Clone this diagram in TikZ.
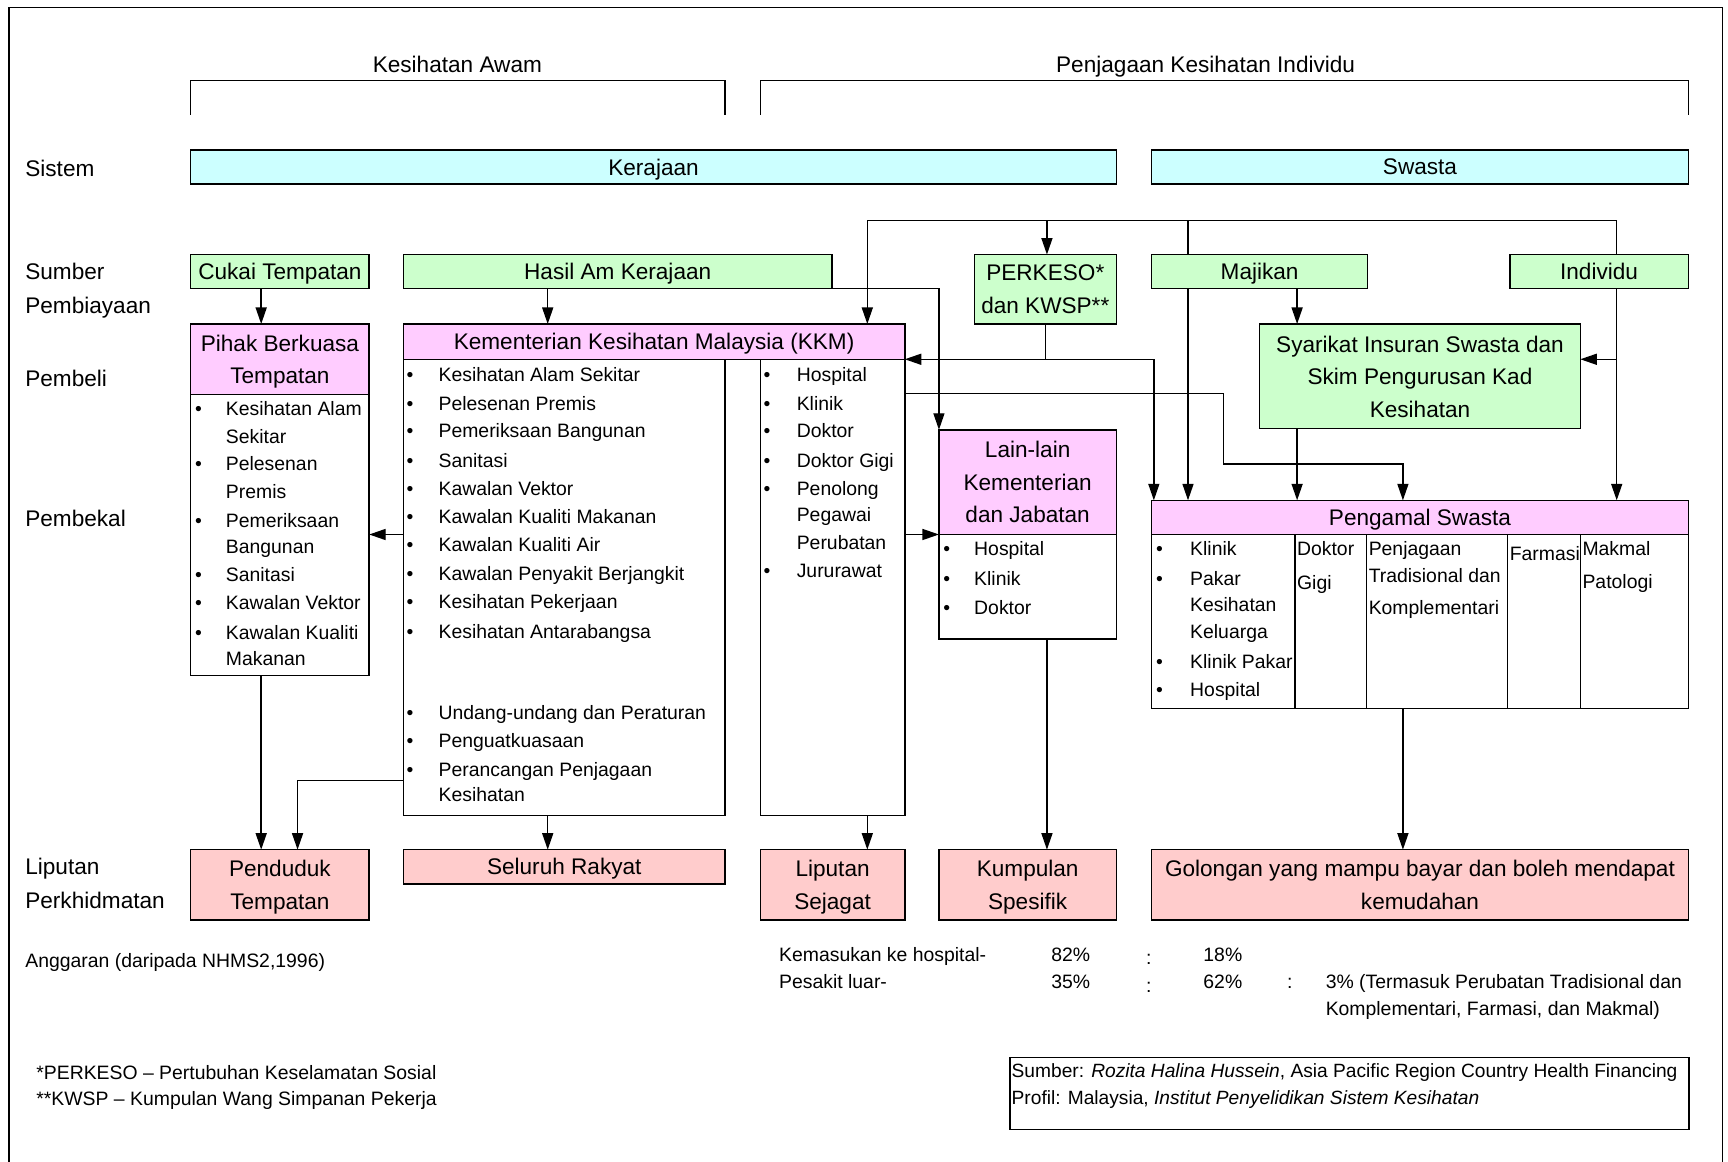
\documentclass[tikz,border=0pt]{standalone}
\usepackage{fontspec}
\setmainfont{Liberation Sans}
\usetikzlibrary{arrows.meta}
\definecolor{cy}{HTML}{CCFFFF}
\definecolor{gr}{HTML}{CCFFCC}
\definecolor{pkc}{HTML}{FFCCFF}
\definecolor{rd}{HTML}{FFCCCC}
\newcommand\bigf{\fontsize{20.5}{29.5}\selectfont}
\newcommand\smf{\fontsize{17.6}{25}\selectfont}
\begin{document}
\begin{tikzpicture}[x=1pt,y=-1pt,
 bx/.style={draw, line width=1.3pt, inner sep=0pt, outer sep=0pt, anchor=north west, align=center, text depth=0pt, font=\bigf},
 lt/.style={anchor=west, inner sep=0pt, outer sep=0pt, text height=12.6pt, text depth=0pt, font=\smf},
 ltb/.style={anchor=west, inner sep=0pt, outer sep=0pt, text height=14.7pt, text depth=0pt, font=\bigf},
 ttl/.style={inner sep=0pt, outer sep=0pt, text height=14.7pt, text depth=0pt, font=\bigf},
 ln/.style={line width=1.3pt},
 arr/.style={line width=1.3pt, -{Triangle[width=10pt,length=15pt]}},
]
\fill[white] (0,0) rectangle (1568,1054);
\useasboundingbox (0,0) rectangle (1568,1054);
% frame
\draw[ln] (8,1054) -- (8,7) -- (1563,7) -- (1563,1054);

% top titles and brackets
\node[ttl] (ka) at (415,58) {Kesihatan Awam};
\node[ttl] (pki) at (1094,58) {Penjagaan Kesihatan Individu};
\draw[ln] (173,104) -- (173,73) -- (658,73) -- (658,104);
\draw[ln] (690,104) -- (690,73) -- (1532,73) -- (1532,104);

% row labels
\node[ltb] (lsis) at (23,153) {Sistem};
\node[ltb] (lsum) at (23,246) {Sumber};
\node[ltb] (lpem) at (23,277) {Pembiayaan};
\node[ltb] (lbel) at (23,343) {Pembeli};
\node[ltb] (lbek) at (23,470) {Pembekal};
\node[ltb] (llip) at (23,786) {Liputan};
\node[ltb] (lper) at (23,817) {Perkhidmatan};

% system row
\node[bx, fill=cy, minimum width=840pt, minimum height=31pt] (kerajaan) at (173,136) {Kerajaan};
\node[bx, fill=cy, minimum width=487pt, minimum height=31pt] (swasta) at (1045,136) {Swasta};

% financing row
\node[bx, fill=gr, minimum width=162pt, minimum height=31pt] (cukai) at (173,231) {Cukai Tempatan};
\node[bx, fill=gr, minimum width=389pt, minimum height=31pt] (hasil) at (366,231) {Hasil Am Kerajaan};
\node[bx, fill=gr, minimum width=129pt, minimum height=63pt] (perkeso) at (884,231) {PERKESO*\\dan KWSP**};
\node[bx, fill=gr, minimum width=196pt, minimum height=31pt] (majikan) at (1045,231) {Majikan};
\node[bx, fill=gr, minimum width=162pt, minimum height=31pt] (individu) at (1370,231) {Individu};

% purchaser / provider boxes
\node[bx, minimum width=162pt, minimum height=255pt] (pbtl) at (173,358) {};
\node[bx, fill=pkc, minimum width=162pt, minimum height=64pt] (pbt) at (173,294) {Pihak Berkuasa\\Tempatan};
\node[bx, minimum width=292pt, minimum height=414pt] (kkml) at (366,326) {};
\node[bx, minimum width=131pt, minimum height=414pt] (kkmr) at (690,326) {};
\node[bx, fill=pkc, minimum width=455pt, minimum height=32pt] (kkm) at (366,294) {Kementerian Kesihatan Malaysia (KKM)};
\node[bx, fill=gr, minimum width=291pt, minimum height=95pt] (sis) at (1143,294) {Syarikat Insuran Swasta dan\\Skim Pengurusan Kad\\Kesihatan};
\node[bx, minimum width=161pt, minimum height=95pt] (lainl) at (852,485) {};
\node[bx, fill=pkc, minimum width=161pt, minimum height=95pt] (lain) at (852,390) {Lain-lain\\Kementerian\\dan Jabatan};
\node[bx, minimum width=487pt, minimum height=158pt] (pengt) at (1045,485) {};
\node[bx, fill=pkc, minimum width=487pt, minimum height=31pt] (peng) at (1045,454) {Pengamal Swasta};
\foreach \x in {1175,1240,1368,1434} \draw[ln] (\x,485) -- (\x,643);

% coverage row
\node[bx, fill=rd, minimum width=162pt, minimum height=64pt] (pend) at (173,771) {Penduduk\\Tempatan};
\node[bx, fill=rd, minimum width=292pt, minimum height=31pt] (seluruh) at (366,771) {Seluruh Rakyat};
\node[bx, fill=rd, minimum width=131pt, minimum height=64pt] (liputan) at (690,771) {Liputan\\Sejagat};
\node[bx, fill=rd, minimum width=161pt, minimum height=64pt] (kumpulan) at (852,771) {Kumpulan\\Spesifik};
\node[bx, fill=rd, minimum width=487pt, minimum height=64pt] (golongan) at (1045,771) {Golongan yang mampu bayar dan boleh mendapat\\kemudahan};

% lists: Pihak Berkuasa Tempatan
\foreach \yy/\tx [count=\i] in {371/Kesihatan Alam, 396/Sekitar, 421/Pelesenan, 446/Premis, 472/Pemeriksaan, 496/Bangunan, 521/Sanitasi, 547/Kawalan Vektor, 574/Kawalan Kualiti, 598/Makanan}
  \node[lt] (pbtt\i) at (205,\yy) {\tx};
\foreach \yy [count=\i] in {371,421,472,521,547,574}
  \node[lt] (pbtb\i) at (177,\yy) {\textbullet};

% KKM left list
\foreach \yy/\tx [count=\i] in {340/Kesihatan Alam Sekitar, 366/Pelesenan Premis, 391/Pemeriksaan Bangunan, 418/Sanitasi, 443/Kawalan Vektor, 469/Kawalan Kualiti Makanan, 494/Kawalan Kualiti Air, 520/Kawalan Penyakit Berjangkit, 546/Kesihatan Pekerjaan, 573/Kesihatan Antarabangsa, 647/Undang-undang dan Peraturan, 672/Penguatkuasaan, 698/Perancangan Penjagaan, 721/Kesihatan}
  \node[lt] (kklt\i) at (398,\yy) {\tx};
\foreach \yy [count=\i] in {340,366,391,418,443,469,494,520,546,573,647,672,698}
  \node[lt] (kklb\i) at (369,\yy) {\textbullet};

% KKM right list
\foreach \yy/\tx [count=\i] in {340/Hospital, 366/Klinik, 391/Doktor, 418/Doktor Gigi, 443/Penolong, 467/Pegawai, 492/Perubatan, 518/Jururawat}
  \node[lt] (kkrt\i) at (723,\yy) {\tx};
\foreach \yy [count=\i] in {340,366,391,418,443,518}
  \node[lt] (kkrb\i) at (693,\yy) {\textbullet};

% Lain-lain list
\foreach \yy/\tx [count=\i] in {498/Hospital, 525/Klinik, 551/Doktor}
  \node[lt] (lnt\i) at (884,\yy) {\tx};
\foreach \yy [count=\i] in {498,525,551}
  \node[lt] (lnb\i) at (856,\yy) {\textbullet};

% Pengamal Swasta table
\foreach \yy/\tx [count=\i] in {498/Klinik, 525/Pakar, 549/Kesihatan, 573/Keluarga, 600/Klinik Pakar, 626/Hospital}
  \node[lt] (pgt\i) at (1080,\yy) {\tx};
\foreach \yy [count=\i] in {498,525,600,626}
  \node[lt] (pgb\i) at (1049,\yy) {\textbullet};
\node[lt] (pgd1) at (1177,498) {Doktor};
\node[lt] (pgd2) at (1177,529) {Gigi};
\node[lt] (pgj1) at (1242,498) {Penjagaan};
\node[lt] (pgj2) at (1242,522) {Tradisional dan};
\node[lt] (pgj3) at (1242,551) {Komplementari};
\node[lt] (pgf1) at (1370,502) {Farmasi};
\node[lt] (pgm1) at (1436,498) {Makmal};
\node[lt] (pgm2) at (1436,528) {Patologi};

% connector helper coordinates
\coordinate (xa) at (237,0);
\coordinate (xb) at (270,0);
\coordinate (xc) at (497,0);
\coordinate (xd) at (787,0);
\coordinate (xf) at (950,0);
\coordinate (xh) at (1078,0);
\coordinate (xj) at (1177,0);
\coordinate (xk) at (1273,0);
\coordinate (xl) at (1467,0);
\coordinate (bus) at (0,200);
\coordinate (ly) at (0,485);
\coordinate (iy) at (0,326);
\coordinate (ky) at (0,708);
\coordinate (k1) at (1110,357);
\coordinate (k3) at (1273,421);

% connectors
\draw[arr] (cukai.south -| xa) -- (pbt.north -| xa);
\draw[arr] (hasil.south -| xc) -- (kkm.north -| xc);
\draw[arr] (hasil.south east) -| (lain.north west);
\draw[ln] (individu.north -| xl) -- (bus -| xl) -- (bus -| xd);
\draw[ln] (majikan.north -| xh) -- (bus -| xh);
\draw[arr] (bus -| xd) -- (kkm.north -| xd);
\draw[arr] (bus -| xf) -- (perkeso.north -| xf);
\coordinate (pk1) at (perkeso.south |- kkm.south east);
\draw[ln] (perkeso.south) -- (pk1);
\draw[arr] (pk1) -- (kkm.south east);
\draw[arr] (pk1) -| ([xshift=2pt]peng.north west);
\draw[arr] (kkmr.east |- k1) -- (k1) |- (k3) -- (peng.north -| k3);
\draw[arr] (kkmr.east |- lainl.north) -- (lainl.north west);
\draw[arr] (kkml.west |- ly) -- (pbtl.east |- ly);
\draw[arr] (majikan.south -| xj) -- (sis.north -| xj);
\draw[arr] (majikan.south -| xh) -- (peng.north -| xh);
\draw[arr] (individu.south -| xl) -- (peng.north -| xl);
\draw[arr] (iy -| xl) -- (sis.east |- iy);
\draw[arr] (sis.south -| xj) -- (peng.north -| xj);
\draw[arr] (pbtl.south -| xa) -- (pend.north -| xa);
\draw[arr] (kkml.west |- ky) -| (pend.north -| xb);
\draw[arr] (kkml.south -| xc) -- (seluruh.north -| xc);
\draw[arr] (kkmr.south -| xd) -- (liputan.north -| xd);
\draw[arr] (lainl.south -| xf) -- (kumpulan.north -| xf);
\draw[arr] (pengt.south -| xk) -- (golongan.north -| xk);

% bottom notes
\node[lt] (angg) at (23,872) {Anggaran (daripada NHMS2,1996)};
\node[lt] (km1) at (707,866) {Kemasukan ke hospital-};
\node[lt] (km2) at (954,866) {82\%};
\node[lt] (km3) at (1040,869) {:};
\node[lt] (km4) at (1092,866) {18\%};
\node[lt] (ps1) at (707,891) {Pesakit luar-};
\node[lt] (ps2) at (954,891) {35\%};
\node[lt] (ps3) at (1040,894) {:};
\node[lt] (ps4) at (1092,891) {62\%};
\node[lt] (ps5) at (1168,891) {:};
\node[lt] (ps6) at (1203,891) {3\% (Termasuk Perubatan Tradisional dan};
\node[lt] (ps7) at (1203,915) {Komplementari, Farmasi, dan Makmal)};
\node[lt] (fn1) at (33,973) {*PERKESO -- Pertubuhan Keselamatan Sosial};
\node[lt] (fn2) at (33,997) {**KWSP -- Kumpulan Wang Simpanan Pekerja};
\node[draw, line width=1.3pt, anchor=north west, inner sep=0pt, minimum width=616pt, minimum height=65pt] (sumberbox) at (916,959) {};
\node[lt, font=\fontsize{17.4}{25}\selectfont] (src1) at (918,971) {Sumber: \textit{Rozita Halina Hussein}, Asia Pacific Region Country Health Financing};
\node[lt, font=\fontsize{17.4}{25}\selectfont] (src2) at (918,996) {Profil: Malaysia, \textit{Institut Penyelidikan Sistem Kesihatan}};
\end{tikzpicture}
\end{document}
